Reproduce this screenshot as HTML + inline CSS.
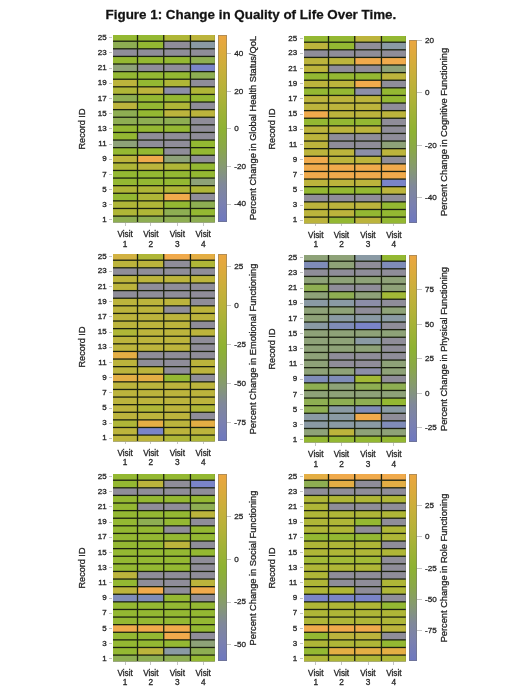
<!DOCTYPE html><html><head><meta charset="utf-8"><title>Figure 1</title><style>
*{margin:0;padding:0;box-sizing:border-box}
html,body{width:520px;height:693px;background:#fff;overflow:hidden}
body{position:relative;font-family:"Liberation Sans",sans-serif;color:#262626;-webkit-text-stroke:0.3px #262626}
.t{position:absolute;white-space:nowrap;line-height:1}
.hm{position:absolute;overflow:visible}
.cb{position:absolute;border:0.6px solid rgba(110,110,110,0.45);background-origin:border-box}
.tk{position:absolute;background:#c4c4c4}
.rt{position:absolute;white-space:nowrap;line-height:1;transform:translate(-50%,-50%) rotate(-90deg);}

</style></head><body><div id="wrap" style="position:absolute;left:0;top:0;width:520px;height:693px;filter:blur(0.4px)">
<div class="t" id="title" style="left:105.6px;top:7.8px;font-size:13.4px;font-weight:bold;color:#111">Figure 1: Change in Quality of Life Over Time.</div>
<svg class="hm" style="left:113.20px;top:35.10px" width="101.90" height="187.40" viewBox="0 0 101.90 187.40"><rect x="0" y="0" width="101.90" height="187.40" fill="#1c2210"/><rect x="0.00" y="0.00" width="23.85" height="5.55" fill="#94b832"/><rect x="25.15" y="0.00" width="24.95" height="5.55" fill="#94b832"/><rect x="51.40" y="0.00" width="25.40" height="5.55" fill="#afb637"/><rect x="78.10" y="0.00" width="23.80" height="5.55" fill="#bcb43c"/><rect x="0.00" y="6.85" width="23.85" height="6.30" fill="#8eae52"/><rect x="25.15" y="6.85" width="24.95" height="6.30" fill="#94b832"/><rect x="51.40" y="6.85" width="25.40" height="6.30" fill="#8f8d99"/><rect x="78.10" y="6.85" width="23.80" height="6.30" fill="#8a9aa4"/><rect x="0.00" y="14.45" width="23.85" height="6.30" fill="#8f8d99"/><rect x="25.15" y="14.45" width="24.95" height="6.30" fill="#8f8d99"/><rect x="51.40" y="14.45" width="25.40" height="6.30" fill="#8f8d99"/><rect x="78.10" y="14.45" width="23.80" height="6.30" fill="#8f8d99"/><rect x="0.00" y="22.06" width="23.85" height="6.30" fill="#94b832"/><rect x="25.15" y="22.06" width="24.95" height="6.30" fill="#94b832"/><rect x="51.40" y="22.06" width="25.40" height="6.30" fill="#94b832"/><rect x="78.10" y="22.06" width="23.80" height="6.30" fill="#8eae52"/><rect x="0.00" y="29.66" width="23.85" height="6.30" fill="#8ea278"/><rect x="25.15" y="29.66" width="24.95" height="6.30" fill="#8f8d99"/><rect x="51.40" y="29.66" width="25.40" height="6.30" fill="#8f8d99"/><rect x="78.10" y="29.66" width="23.80" height="6.30" fill="#7a84c8"/><rect x="0.00" y="37.27" width="23.85" height="6.30" fill="#94b832"/><rect x="25.15" y="37.27" width="24.95" height="6.30" fill="#94b832"/><rect x="51.40" y="37.27" width="25.40" height="6.30" fill="#94b832"/><rect x="78.10" y="37.27" width="23.80" height="6.30" fill="#8eae52"/><rect x="0.00" y="44.87" width="23.85" height="6.30" fill="#bcb43c"/><rect x="25.15" y="44.87" width="24.95" height="6.30" fill="#94b832"/><rect x="51.40" y="44.87" width="25.40" height="6.30" fill="#afb637"/><rect x="78.10" y="44.87" width="23.80" height="6.30" fill="#8f8d99"/><rect x="0.00" y="52.47" width="23.85" height="6.30" fill="#afb637"/><rect x="25.15" y="52.47" width="24.95" height="6.30" fill="#bcb43c"/><rect x="51.40" y="52.47" width="25.40" height="6.30" fill="#8c8ea8"/><rect x="78.10" y="52.47" width="23.80" height="6.30" fill="#afb637"/><rect x="0.00" y="60.08" width="23.85" height="6.30" fill="#8eae52"/><rect x="25.15" y="60.08" width="24.95" height="6.30" fill="#94b832"/><rect x="51.40" y="60.08" width="25.40" height="6.30" fill="#94b832"/><rect x="78.10" y="60.08" width="23.80" height="6.30" fill="#94b832"/><rect x="0.00" y="67.68" width="23.85" height="6.30" fill="#bcb43c"/><rect x="25.15" y="67.68" width="24.95" height="6.30" fill="#94b832"/><rect x="51.40" y="67.68" width="25.40" height="6.30" fill="#afb637"/><rect x="78.10" y="67.68" width="23.80" height="6.30" fill="#8f8d99"/><rect x="0.00" y="75.29" width="23.85" height="6.30" fill="#8eae52"/><rect x="25.15" y="75.29" width="24.95" height="6.30" fill="#94b832"/><rect x="51.40" y="75.29" width="25.40" height="6.30" fill="#bcb43c"/><rect x="78.10" y="75.29" width="23.80" height="6.30" fill="#bcb43c"/><rect x="0.00" y="82.89" width="23.85" height="6.30" fill="#8eae52"/><rect x="25.15" y="82.89" width="24.95" height="6.30" fill="#8eae52"/><rect x="51.40" y="82.89" width="25.40" height="6.30" fill="#8eae52"/><rect x="78.10" y="82.89" width="23.80" height="6.30" fill="#8f8d99"/><rect x="0.00" y="90.49" width="23.85" height="6.30" fill="#94b832"/><rect x="25.15" y="90.49" width="24.95" height="6.30" fill="#94b832"/><rect x="51.40" y="90.49" width="25.40" height="6.30" fill="#94b832"/><rect x="78.10" y="90.49" width="23.80" height="6.30" fill="#8f8d99"/><rect x="0.00" y="98.10" width="23.85" height="6.30" fill="#94b832"/><rect x="25.15" y="98.10" width="24.95" height="6.30" fill="#8f8d99"/><rect x="51.40" y="98.10" width="25.40" height="6.30" fill="#8f8d99"/><rect x="78.10" y="98.10" width="23.80" height="6.30" fill="#8f8d99"/><rect x="0.00" y="105.70" width="23.85" height="6.30" fill="#8ea278"/><rect x="25.15" y="105.70" width="24.95" height="6.30" fill="#8f8d99"/><rect x="51.40" y="105.70" width="25.40" height="6.30" fill="#8f8d99"/><rect x="78.10" y="105.70" width="23.80" height="6.30" fill="#94b832"/><rect x="0.00" y="113.31" width="23.85" height="6.30" fill="#94b832"/><rect x="25.15" y="113.31" width="24.95" height="6.30" fill="#94b832"/><rect x="51.40" y="113.31" width="25.40" height="6.30" fill="#8f8d99"/><rect x="78.10" y="113.31" width="23.80" height="6.30" fill="#94b832"/><rect x="0.00" y="120.91" width="23.85" height="6.30" fill="#bcb43c"/><rect x="25.15" y="120.91" width="24.95" height="6.30" fill="#f0aa4c"/><rect x="51.40" y="120.91" width="25.40" height="6.30" fill="#8ea278"/><rect x="78.10" y="120.91" width="23.80" height="6.30" fill="#8f8d99"/><rect x="0.00" y="128.51" width="23.85" height="6.30" fill="#afb637"/><rect x="25.15" y="128.51" width="24.95" height="6.30" fill="#bcb43c"/><rect x="51.40" y="128.51" width="25.40" height="6.30" fill="#afb637"/><rect x="78.10" y="128.51" width="23.80" height="6.30" fill="#94b832"/><rect x="0.00" y="136.12" width="23.85" height="6.30" fill="#94b832"/><rect x="25.15" y="136.12" width="24.95" height="6.30" fill="#94b832"/><rect x="51.40" y="136.12" width="25.40" height="6.30" fill="#94b832"/><rect x="78.10" y="136.12" width="23.80" height="6.30" fill="#94b832"/><rect x="0.00" y="143.72" width="23.85" height="6.30" fill="#94b832"/><rect x="25.15" y="143.72" width="24.95" height="6.30" fill="#94b832"/><rect x="51.40" y="143.72" width="25.40" height="6.30" fill="#94b832"/><rect x="78.10" y="143.72" width="23.80" height="6.30" fill="#8ea278"/><rect x="0.00" y="151.33" width="23.85" height="6.30" fill="#afb637"/><rect x="25.15" y="151.33" width="24.95" height="6.30" fill="#afb637"/><rect x="51.40" y="151.33" width="25.40" height="6.30" fill="#afb637"/><rect x="78.10" y="151.33" width="23.80" height="6.30" fill="#afb637"/><rect x="0.00" y="158.93" width="23.85" height="6.30" fill="#94b832"/><rect x="25.15" y="158.93" width="24.95" height="6.30" fill="#afb637"/><rect x="51.40" y="158.93" width="25.40" height="6.30" fill="#f0aa4c"/><rect x="78.10" y="158.93" width="23.80" height="6.30" fill="#8f8d99"/><rect x="0.00" y="166.53" width="23.85" height="6.30" fill="#afb637"/><rect x="25.15" y="166.53" width="24.95" height="6.30" fill="#afb637"/><rect x="51.40" y="166.53" width="25.40" height="6.30" fill="#94b832"/><rect x="78.10" y="166.53" width="23.80" height="6.30" fill="#8eae52"/><rect x="0.00" y="174.14" width="23.85" height="6.30" fill="#afb637"/><rect x="25.15" y="174.14" width="24.95" height="6.30" fill="#afb637"/><rect x="51.40" y="174.14" width="25.40" height="6.30" fill="#8eae52"/><rect x="78.10" y="174.14" width="23.80" height="6.30" fill="#94b832"/><rect x="0.00" y="181.74" width="23.85" height="5.66" fill="#8eae52"/><rect x="25.15" y="181.74" width="24.95" height="5.66" fill="#8eae52"/><rect x="51.40" y="181.74" width="25.40" height="5.66" fill="#8eae52"/><rect x="78.10" y="181.74" width="23.80" height="5.66" fill="#8eae52"/></svg>
<div class="tk" style="left:109.30px;top:219.27px;width:2.6px;height:0.8px"></div>
<div class="t" style="right:413.40px;top:215.87px;font-size:8px">1</div>
<div class="tk" style="left:109.30px;top:204.39px;width:2.6px;height:0.8px"></div>
<div class="t" style="right:413.40px;top:200.99px;font-size:8px">3</div>
<div class="tk" style="left:109.30px;top:189.18px;width:2.6px;height:0.8px"></div>
<div class="t" style="right:413.40px;top:185.78px;font-size:8px">5</div>
<div class="tk" style="left:109.30px;top:173.97px;width:2.6px;height:0.8px"></div>
<div class="t" style="right:413.40px;top:170.57px;font-size:8px">7</div>
<div class="tk" style="left:109.30px;top:158.76px;width:2.6px;height:0.8px"></div>
<div class="t" style="right:413.40px;top:155.36px;font-size:8px">9</div>
<div class="tk" style="left:109.30px;top:143.55px;width:2.6px;height:0.8px"></div>
<div class="t" style="right:413.40px;top:140.15px;font-size:8px">11</div>
<div class="tk" style="left:109.30px;top:128.35px;width:2.6px;height:0.8px"></div>
<div class="t" style="right:413.40px;top:124.95px;font-size:8px">13</div>
<div class="tk" style="left:109.30px;top:113.14px;width:2.6px;height:0.8px"></div>
<div class="t" style="right:413.40px;top:109.74px;font-size:8px">15</div>
<div class="tk" style="left:109.30px;top:97.93px;width:2.6px;height:0.8px"></div>
<div class="t" style="right:413.40px;top:94.53px;font-size:8px">17</div>
<div class="tk" style="left:109.30px;top:82.72px;width:2.6px;height:0.8px"></div>
<div class="t" style="right:413.40px;top:79.32px;font-size:8px">19</div>
<div class="tk" style="left:109.30px;top:67.51px;width:2.6px;height:0.8px"></div>
<div class="t" style="right:413.40px;top:64.11px;font-size:8px">21</div>
<div class="tk" style="left:109.30px;top:52.31px;width:2.6px;height:0.8px"></div>
<div class="t" style="right:413.40px;top:48.91px;font-size:8px">23</div>
<div class="tk" style="left:109.30px;top:37.48px;width:2.6px;height:0.8px"></div>
<div class="t" style="right:413.40px;top:34.08px;font-size:8px">25</div>
<div class="rt" style="left:82.70px;top:128.90px;font-size:9.1px">Record ID</div>
<div class="tk" style="left:124.72px;top:223.30px;width:0.8px;height:2.4px"></div>
<div class="t" style="left:110.12px;top:231.10px;width:30px;text-align:center;font-size:8.2px">Visit</div>
<div class="t" style="left:110.12px;top:239.50px;width:30px;text-align:center;font-size:8.3px">1</div>
<div class="tk" style="left:150.42px;top:223.30px;width:0.8px;height:2.4px"></div>
<div class="t" style="left:135.82px;top:231.10px;width:30px;text-align:center;font-size:8.2px">Visit</div>
<div class="t" style="left:135.82px;top:239.50px;width:30px;text-align:center;font-size:8.3px">2</div>
<div class="tk" style="left:176.90px;top:223.30px;width:0.8px;height:2.4px"></div>
<div class="t" style="left:162.30px;top:231.10px;width:30px;text-align:center;font-size:8.2px">Visit</div>
<div class="t" style="left:162.30px;top:239.50px;width:30px;text-align:center;font-size:8.3px">3</div>
<div class="tk" style="left:202.80px;top:223.30px;width:0.8px;height:2.4px"></div>
<div class="t" style="left:188.20px;top:231.10px;width:30px;text-align:center;font-size:8.2px">Visit</div>
<div class="t" style="left:188.20px;top:239.50px;width:30px;text-align:center;font-size:8.3px">4</div>
<div class="cb" style="left:218.10px;top:35.10px;width:8.5px;height:187.40px;background-image:linear-gradient(to bottom, #eca640 0%, #daab3b 10%, #c6b03a 20%, #b4b238 30%, #a0b236 40%, #8eb232 50%, #8aa848 60%, #869a70 70%, #80889a 80%, #7a80b0 90%, #6e78c0 100%)"></div>
<div class="tk" style="left:226.60px;top:52.90px;width:4.6px;height:0.8px"></div>
<div class="t" style="left:234.30px;top:49.80px;font-size:8.1px">40</div>
<div class="tk" style="left:226.60px;top:90.80px;width:4.6px;height:0.8px"></div>
<div class="t" style="left:234.30px;top:87.70px;font-size:8.1px">20</div>
<div class="tk" style="left:226.60px;top:128.30px;width:4.6px;height:0.8px"></div>
<div class="t" style="left:234.30px;top:125.20px;font-size:8.1px">0</div>
<div class="tk" style="left:226.60px;top:166.00px;width:4.6px;height:0.8px"></div>
<div class="t" style="left:234.30px;top:162.90px;font-size:8.1px">-20</div>
<div class="tk" style="left:226.60px;top:203.50px;width:4.6px;height:0.8px"></div>
<div class="t" style="left:234.30px;top:200.40px;font-size:8.1px">-40</div>
<div class="rt" style="left:254.40px;top:128.40px;font-size:9.25px">Percent Change in Global Health Status/QoL</div>
<svg class="hm" style="left:303.85px;top:35.60px" width="101.90" height="187.40" viewBox="0 0 101.90 187.40"><rect x="0" y="0" width="101.90" height="187.40" fill="#1c2210"/><rect x="0.00" y="0.00" width="23.85" height="5.55" fill="#94b832"/><rect x="25.15" y="0.00" width="24.95" height="5.55" fill="#94b832"/><rect x="51.40" y="0.00" width="25.40" height="5.55" fill="#bcb43c"/><rect x="78.10" y="0.00" width="23.80" height="5.55" fill="#94b832"/><rect x="0.00" y="6.85" width="23.85" height="6.30" fill="#bcb43c"/><rect x="25.15" y="6.85" width="24.95" height="6.30" fill="#94b832"/><rect x="51.40" y="6.85" width="25.40" height="6.30" fill="#8f8d99"/><rect x="78.10" y="6.85" width="23.80" height="6.30" fill="#8a9aa4"/><rect x="0.00" y="14.45" width="23.85" height="6.30" fill="#8f8d99"/><rect x="25.15" y="14.45" width="24.95" height="6.30" fill="#8f8d99"/><rect x="51.40" y="14.45" width="25.40" height="6.30" fill="#8f8d99"/><rect x="78.10" y="14.45" width="23.80" height="6.30" fill="#8f8d99"/><rect x="0.00" y="22.06" width="23.85" height="6.30" fill="#bcb43c"/><rect x="25.15" y="22.06" width="24.95" height="6.30" fill="#bcb43c"/><rect x="51.40" y="22.06" width="25.40" height="6.30" fill="#f0aa4c"/><rect x="78.10" y="22.06" width="23.80" height="6.30" fill="#f0aa4c"/><rect x="0.00" y="29.66" width="23.85" height="6.30" fill="#bcb43c"/><rect x="25.15" y="29.66" width="24.95" height="6.30" fill="#8f8d99"/><rect x="51.40" y="29.66" width="25.40" height="6.30" fill="#8f8d99"/><rect x="78.10" y="29.66" width="23.80" height="6.30" fill="#8ea278"/><rect x="0.00" y="37.27" width="23.85" height="6.30" fill="#94b832"/><rect x="25.15" y="37.27" width="24.95" height="6.30" fill="#94b832"/><rect x="51.40" y="37.27" width="25.40" height="6.30" fill="#94b832"/><rect x="78.10" y="37.27" width="23.80" height="6.30" fill="#bcb43c"/><rect x="0.00" y="44.87" width="23.85" height="6.30" fill="#bcb43c"/><rect x="25.15" y="44.87" width="24.95" height="6.30" fill="#bcb43c"/><rect x="51.40" y="44.87" width="25.40" height="6.30" fill="#f0aa4c"/><rect x="78.10" y="44.87" width="23.80" height="6.30" fill="#8f8d99"/><rect x="0.00" y="52.47" width="23.85" height="6.30" fill="#94b832"/><rect x="25.15" y="52.47" width="24.95" height="6.30" fill="#94b832"/><rect x="51.40" y="52.47" width="25.40" height="6.30" fill="#8c8ea8"/><rect x="78.10" y="52.47" width="23.80" height="6.30" fill="#94b832"/><rect x="0.00" y="60.08" width="23.85" height="6.30" fill="#bcb43c"/><rect x="25.15" y="60.08" width="24.95" height="6.30" fill="#bcb43c"/><rect x="51.40" y="60.08" width="25.40" height="6.30" fill="#bcb43c"/><rect x="78.10" y="60.08" width="23.80" height="6.30" fill="#94b832"/><rect x="0.00" y="67.68" width="23.85" height="6.30" fill="#bcb43c"/><rect x="25.15" y="67.68" width="24.95" height="6.30" fill="#bcb43c"/><rect x="51.40" y="67.68" width="25.40" height="6.30" fill="#bcb43c"/><rect x="78.10" y="67.68" width="23.80" height="6.30" fill="#8f8d99"/><rect x="0.00" y="75.29" width="23.85" height="6.30" fill="#f0aa4c"/><rect x="25.15" y="75.29" width="24.95" height="6.30" fill="#bcb43c"/><rect x="51.40" y="75.29" width="25.40" height="6.30" fill="#bcb43c"/><rect x="78.10" y="75.29" width="23.80" height="6.30" fill="#bcb43c"/><rect x="0.00" y="82.89" width="23.85" height="6.30" fill="#94b832"/><rect x="25.15" y="82.89" width="24.95" height="6.30" fill="#94b832"/><rect x="51.40" y="82.89" width="25.40" height="6.30" fill="#94b832"/><rect x="78.10" y="82.89" width="23.80" height="6.30" fill="#8f8d99"/><rect x="0.00" y="90.49" width="23.85" height="6.30" fill="#bcb43c"/><rect x="25.15" y="90.49" width="24.95" height="6.30" fill="#bcb43c"/><rect x="51.40" y="90.49" width="25.40" height="6.30" fill="#bcb43c"/><rect x="78.10" y="90.49" width="23.80" height="6.30" fill="#8f8d99"/><rect x="0.00" y="98.10" width="23.85" height="6.30" fill="#bcb43c"/><rect x="25.15" y="98.10" width="24.95" height="6.30" fill="#8f8d99"/><rect x="51.40" y="98.10" width="25.40" height="6.30" fill="#8f8d99"/><rect x="78.10" y="98.10" width="23.80" height="6.30" fill="#8f8d99"/><rect x="0.00" y="105.70" width="23.85" height="6.30" fill="#bcb43c"/><rect x="25.15" y="105.70" width="24.95" height="6.30" fill="#8f8d99"/><rect x="51.40" y="105.70" width="25.40" height="6.30" fill="#8f8d99"/><rect x="78.10" y="105.70" width="23.80" height="6.30" fill="#8ea278"/><rect x="0.00" y="113.31" width="23.85" height="6.30" fill="#bcb43c"/><rect x="25.15" y="113.31" width="24.95" height="6.30" fill="#bcb43c"/><rect x="51.40" y="113.31" width="25.40" height="6.30" fill="#8c8ea8"/><rect x="78.10" y="113.31" width="23.80" height="6.30" fill="#bcb43c"/><rect x="0.00" y="120.91" width="23.85" height="6.30" fill="#f0aa4c"/><rect x="25.15" y="120.91" width="24.95" height="6.30" fill="#bcb43c"/><rect x="51.40" y="120.91" width="25.40" height="6.30" fill="#bcb43c"/><rect x="78.10" y="120.91" width="23.80" height="6.30" fill="#8f8d99"/><rect x="0.00" y="128.51" width="23.85" height="6.30" fill="#f0aa4c"/><rect x="25.15" y="128.51" width="24.95" height="6.30" fill="#f0aa4c"/><rect x="51.40" y="128.51" width="25.40" height="6.30" fill="#f0aa4c"/><rect x="78.10" y="128.51" width="23.80" height="6.30" fill="#f0aa4c"/><rect x="0.00" y="136.12" width="23.85" height="6.30" fill="#f0aa4c"/><rect x="25.15" y="136.12" width="24.95" height="6.30" fill="#f0aa4c"/><rect x="51.40" y="136.12" width="25.40" height="6.30" fill="#f0aa4c"/><rect x="78.10" y="136.12" width="23.80" height="6.30" fill="#f0aa4c"/><rect x="0.00" y="143.72" width="23.85" height="6.30" fill="#bcb43c"/><rect x="25.15" y="143.72" width="24.95" height="6.30" fill="#bcb43c"/><rect x="51.40" y="143.72" width="25.40" height="6.30" fill="#bcb43c"/><rect x="78.10" y="143.72" width="23.80" height="6.30" fill="#7a84c8"/><rect x="0.00" y="151.33" width="23.85" height="6.30" fill="#94b832"/><rect x="25.15" y="151.33" width="24.95" height="6.30" fill="#94b832"/><rect x="51.40" y="151.33" width="25.40" height="6.30" fill="#94b832"/><rect x="78.10" y="151.33" width="23.80" height="6.30" fill="#bcb43c"/><rect x="0.00" y="158.93" width="23.85" height="6.30" fill="#8f8d99"/><rect x="25.15" y="158.93" width="24.95" height="6.30" fill="#8f8d99"/><rect x="51.40" y="158.93" width="25.40" height="6.30" fill="#8f8d99"/><rect x="78.10" y="158.93" width="23.80" height="6.30" fill="#8f8d99"/><rect x="0.00" y="166.53" width="23.85" height="6.30" fill="#bcb43c"/><rect x="25.15" y="166.53" width="24.95" height="6.30" fill="#bcb43c"/><rect x="51.40" y="166.53" width="25.40" height="6.30" fill="#bcb43c"/><rect x="78.10" y="166.53" width="23.80" height="6.30" fill="#94b832"/><rect x="0.00" y="174.14" width="23.85" height="6.30" fill="#bcb43c"/><rect x="25.15" y="174.14" width="24.95" height="6.30" fill="#bcb43c"/><rect x="51.40" y="174.14" width="25.40" height="6.30" fill="#94b832"/><rect x="78.10" y="174.14" width="23.80" height="6.30" fill="#94b832"/><rect x="0.00" y="181.74" width="23.85" height="5.66" fill="#bcb43c"/><rect x="25.15" y="181.74" width="24.95" height="5.66" fill="#94b832"/><rect x="51.40" y="181.74" width="25.40" height="5.66" fill="#bcb43c"/><rect x="78.10" y="181.74" width="23.80" height="5.66" fill="#94b832"/></svg>
<div class="tk" style="left:299.95px;top:219.77px;width:2.6px;height:0.8px"></div>
<div class="t" style="right:222.75px;top:216.37px;font-size:8px">1</div>
<div class="tk" style="left:299.95px;top:204.89px;width:2.6px;height:0.8px"></div>
<div class="t" style="right:222.75px;top:201.49px;font-size:8px">3</div>
<div class="tk" style="left:299.95px;top:189.68px;width:2.6px;height:0.8px"></div>
<div class="t" style="right:222.75px;top:186.28px;font-size:8px">5</div>
<div class="tk" style="left:299.95px;top:174.47px;width:2.6px;height:0.8px"></div>
<div class="t" style="right:222.75px;top:171.07px;font-size:8px">7</div>
<div class="tk" style="left:299.95px;top:159.26px;width:2.6px;height:0.8px"></div>
<div class="t" style="right:222.75px;top:155.86px;font-size:8px">9</div>
<div class="tk" style="left:299.95px;top:144.05px;width:2.6px;height:0.8px"></div>
<div class="t" style="right:222.75px;top:140.65px;font-size:8px">11</div>
<div class="tk" style="left:299.95px;top:128.85px;width:2.6px;height:0.8px"></div>
<div class="t" style="right:222.75px;top:125.45px;font-size:8px">13</div>
<div class="tk" style="left:299.95px;top:113.64px;width:2.6px;height:0.8px"></div>
<div class="t" style="right:222.75px;top:110.24px;font-size:8px">15</div>
<div class="tk" style="left:299.95px;top:98.43px;width:2.6px;height:0.8px"></div>
<div class="t" style="right:222.75px;top:95.03px;font-size:8px">17</div>
<div class="tk" style="left:299.95px;top:83.22px;width:2.6px;height:0.8px"></div>
<div class="t" style="right:222.75px;top:79.82px;font-size:8px">19</div>
<div class="tk" style="left:299.95px;top:68.01px;width:2.6px;height:0.8px"></div>
<div class="t" style="right:222.75px;top:64.61px;font-size:8px">21</div>
<div class="tk" style="left:299.95px;top:52.81px;width:2.6px;height:0.8px"></div>
<div class="t" style="right:222.75px;top:49.41px;font-size:8px">23</div>
<div class="tk" style="left:299.95px;top:37.98px;width:2.6px;height:0.8px"></div>
<div class="t" style="right:222.75px;top:34.58px;font-size:8px">25</div>
<div class="rt" style="left:273.35px;top:129.40px;font-size:9.1px">Record ID</div>
<div class="tk" style="left:315.38px;top:223.80px;width:0.8px;height:2.4px"></div>
<div class="t" style="left:300.78px;top:231.60px;width:30px;text-align:center;font-size:8.2px">Visit</div>
<div class="t" style="left:300.78px;top:240.00px;width:30px;text-align:center;font-size:8.3px">1</div>
<div class="tk" style="left:341.08px;top:223.80px;width:0.8px;height:2.4px"></div>
<div class="t" style="left:326.48px;top:231.60px;width:30px;text-align:center;font-size:8.2px">Visit</div>
<div class="t" style="left:326.48px;top:240.00px;width:30px;text-align:center;font-size:8.3px">2</div>
<div class="tk" style="left:367.55px;top:223.80px;width:0.8px;height:2.4px"></div>
<div class="t" style="left:352.95px;top:231.60px;width:30px;text-align:center;font-size:8.2px">Visit</div>
<div class="t" style="left:352.95px;top:240.00px;width:30px;text-align:center;font-size:8.3px">3</div>
<div class="tk" style="left:393.45px;top:223.80px;width:0.8px;height:2.4px"></div>
<div class="t" style="left:378.85px;top:231.60px;width:30px;text-align:center;font-size:8.2px">Visit</div>
<div class="t" style="left:378.85px;top:240.00px;width:30px;text-align:center;font-size:8.3px">4</div>
<div class="cb" style="left:408.75px;top:39.80px;width:8.5px;height:182.80px;background-image:linear-gradient(to bottom, #eca640 0%, #daab3b 10%, #c6b03a 20%, #b4b238 30%, #a0b236 40%, #8eb232 50%, #8aa848 60%, #869a70 70%, #80889a 80%, #7a80b0 90%, #6e78c0 100%)"></div>
<div class="tk" style="left:417.25px;top:39.60px;width:4.6px;height:0.8px"></div>
<div class="t" style="left:424.95px;top:36.50px;font-size:8.1px">20</div>
<div class="tk" style="left:417.25px;top:92.30px;width:4.6px;height:0.8px"></div>
<div class="t" style="left:424.95px;top:89.20px;font-size:8.1px">0</div>
<div class="tk" style="left:417.25px;top:144.60px;width:4.6px;height:0.8px"></div>
<div class="t" style="left:424.95px;top:141.50px;font-size:8.1px">-20</div>
<div class="tk" style="left:417.25px;top:197.00px;width:4.6px;height:0.8px"></div>
<div class="t" style="left:424.95px;top:193.90px;font-size:8.1px">-40</div>
<div class="rt" style="left:445.05px;top:131.90px;font-size:9.25px">Percent Change in Cognitive Functioning</div>
<svg class="hm" style="left:113.20px;top:253.60px" width="101.90" height="187.40" viewBox="0 0 101.90 187.40"><rect x="0" y="0" width="101.90" height="187.40" fill="#1c2210"/><rect x="0.00" y="0.00" width="23.85" height="5.55" fill="#d2b242"/><rect x="25.15" y="0.00" width="24.95" height="5.55" fill="#afb637"/><rect x="51.40" y="0.00" width="25.40" height="5.55" fill="#f0aa4c"/><rect x="78.10" y="0.00" width="23.80" height="5.55" fill="#e4ae44"/><rect x="0.00" y="6.85" width="23.85" height="6.30" fill="#bcb43c"/><rect x="25.15" y="6.85" width="24.95" height="6.30" fill="#bcb43c"/><rect x="51.40" y="6.85" width="25.40" height="6.30" fill="#8f8d99"/><rect x="78.10" y="6.85" width="23.80" height="6.30" fill="#afb637"/><rect x="0.00" y="14.45" width="23.85" height="6.30" fill="#8f8d99"/><rect x="25.15" y="14.45" width="24.95" height="6.30" fill="#8f8d99"/><rect x="51.40" y="14.45" width="25.40" height="6.30" fill="#8f8d99"/><rect x="78.10" y="14.45" width="23.80" height="6.30" fill="#8f8d99"/><rect x="0.00" y="22.06" width="23.85" height="6.30" fill="#bcb43c"/><rect x="25.15" y="22.06" width="24.95" height="6.30" fill="#bcb43c"/><rect x="51.40" y="22.06" width="25.40" height="6.30" fill="#bcb43c"/><rect x="78.10" y="22.06" width="23.80" height="6.30" fill="#bcb43c"/><rect x="0.00" y="29.66" width="23.85" height="6.30" fill="#bcb43c"/><rect x="25.15" y="29.66" width="24.95" height="6.30" fill="#8f8d99"/><rect x="51.40" y="29.66" width="25.40" height="6.30" fill="#8f8d99"/><rect x="78.10" y="29.66" width="23.80" height="6.30" fill="#8f8d99"/><rect x="0.00" y="37.27" width="23.85" height="6.30" fill="#8f8d99"/><rect x="25.15" y="37.27" width="24.95" height="6.30" fill="#8f8d99"/><rect x="51.40" y="37.27" width="25.40" height="6.30" fill="#8f8d99"/><rect x="78.10" y="37.27" width="23.80" height="6.30" fill="#8f8d99"/><rect x="0.00" y="44.87" width="23.85" height="6.30" fill="#bcb43c"/><rect x="25.15" y="44.87" width="24.95" height="6.30" fill="#bcb43c"/><rect x="51.40" y="44.87" width="25.40" height="6.30" fill="#bcb43c"/><rect x="78.10" y="44.87" width="23.80" height="6.30" fill="#8f8d99"/><rect x="0.00" y="52.47" width="23.85" height="6.30" fill="#bcb43c"/><rect x="25.15" y="52.47" width="24.95" height="6.30" fill="#bcb43c"/><rect x="51.40" y="52.47" width="25.40" height="6.30" fill="#8f8d99"/><rect x="78.10" y="52.47" width="23.80" height="6.30" fill="#bcb43c"/><rect x="0.00" y="60.08" width="23.85" height="6.30" fill="#bcb43c"/><rect x="25.15" y="60.08" width="24.95" height="6.30" fill="#bcb43c"/><rect x="51.40" y="60.08" width="25.40" height="6.30" fill="#bcb43c"/><rect x="78.10" y="60.08" width="23.80" height="6.30" fill="#bcb43c"/><rect x="0.00" y="67.68" width="23.85" height="6.30" fill="#bcb43c"/><rect x="25.15" y="67.68" width="24.95" height="6.30" fill="#bcb43c"/><rect x="51.40" y="67.68" width="25.40" height="6.30" fill="#bcb43c"/><rect x="78.10" y="67.68" width="23.80" height="6.30" fill="#8f8d99"/><rect x="0.00" y="75.29" width="23.85" height="6.30" fill="#afb637"/><rect x="25.15" y="75.29" width="24.95" height="6.30" fill="#bcb43c"/><rect x="51.40" y="75.29" width="25.40" height="6.30" fill="#bcb43c"/><rect x="78.10" y="75.29" width="23.80" height="6.30" fill="#bcb43c"/><rect x="0.00" y="82.89" width="23.85" height="6.30" fill="#bcb43c"/><rect x="25.15" y="82.89" width="24.95" height="6.30" fill="#bcb43c"/><rect x="51.40" y="82.89" width="25.40" height="6.30" fill="#bcb43c"/><rect x="78.10" y="82.89" width="23.80" height="6.30" fill="#8f8d99"/><rect x="0.00" y="90.49" width="23.85" height="6.30" fill="#bcb43c"/><rect x="25.15" y="90.49" width="24.95" height="6.30" fill="#bcb43c"/><rect x="51.40" y="90.49" width="25.40" height="6.30" fill="#bcb43c"/><rect x="78.10" y="90.49" width="23.80" height="6.30" fill="#8f8d99"/><rect x="0.00" y="98.10" width="23.85" height="6.30" fill="#e4ae44"/><rect x="25.15" y="98.10" width="24.95" height="6.30" fill="#8f8d99"/><rect x="51.40" y="98.10" width="25.40" height="6.30" fill="#8f8d99"/><rect x="78.10" y="98.10" width="23.80" height="6.30" fill="#8f8d99"/><rect x="0.00" y="105.70" width="23.85" height="6.30" fill="#bcb43c"/><rect x="25.15" y="105.70" width="24.95" height="6.30" fill="#8f8d99"/><rect x="51.40" y="105.70" width="25.40" height="6.30" fill="#8f8d99"/><rect x="78.10" y="105.70" width="23.80" height="6.30" fill="#bcb43c"/><rect x="0.00" y="113.31" width="23.85" height="6.30" fill="#bcb43c"/><rect x="25.15" y="113.31" width="24.95" height="6.30" fill="#bcb43c"/><rect x="51.40" y="113.31" width="25.40" height="6.30" fill="#8f8d99"/><rect x="78.10" y="113.31" width="23.80" height="6.30" fill="#bcb43c"/><rect x="0.00" y="120.91" width="23.85" height="6.30" fill="#e4ae44"/><rect x="25.15" y="120.91" width="24.95" height="6.30" fill="#e4ae44"/><rect x="51.40" y="120.91" width="25.40" height="6.30" fill="#94b832"/><rect x="78.10" y="120.91" width="23.80" height="6.30" fill="#8f8d99"/><rect x="0.00" y="128.51" width="23.85" height="6.30" fill="#bcb43c"/><rect x="25.15" y="128.51" width="24.95" height="6.30" fill="#bcb43c"/><rect x="51.40" y="128.51" width="25.40" height="6.30" fill="#bcb43c"/><rect x="78.10" y="128.51" width="23.80" height="6.30" fill="#bcb43c"/><rect x="0.00" y="136.12" width="23.85" height="6.30" fill="#bcb43c"/><rect x="25.15" y="136.12" width="24.95" height="6.30" fill="#bcb43c"/><rect x="51.40" y="136.12" width="25.40" height="6.30" fill="#bcb43c"/><rect x="78.10" y="136.12" width="23.80" height="6.30" fill="#bcb43c"/><rect x="0.00" y="143.72" width="23.85" height="6.30" fill="#bcb43c"/><rect x="25.15" y="143.72" width="24.95" height="6.30" fill="#bcb43c"/><rect x="51.40" y="143.72" width="25.40" height="6.30" fill="#bcb43c"/><rect x="78.10" y="143.72" width="23.80" height="6.30" fill="#bcb43c"/><rect x="0.00" y="151.33" width="23.85" height="6.30" fill="#bcb43c"/><rect x="25.15" y="151.33" width="24.95" height="6.30" fill="#afb637"/><rect x="51.40" y="151.33" width="25.40" height="6.30" fill="#bcb43c"/><rect x="78.10" y="151.33" width="23.80" height="6.30" fill="#afb637"/><rect x="0.00" y="158.93" width="23.85" height="6.30" fill="#bcb43c"/><rect x="25.15" y="158.93" width="24.95" height="6.30" fill="#bcb43c"/><rect x="51.40" y="158.93" width="25.40" height="6.30" fill="#bcb43c"/><rect x="78.10" y="158.93" width="23.80" height="6.30" fill="#8f8d99"/><rect x="0.00" y="166.53" width="23.85" height="6.30" fill="#afb637"/><rect x="25.15" y="166.53" width="24.95" height="6.30" fill="#e4ae44"/><rect x="51.40" y="166.53" width="25.40" height="6.30" fill="#bcb43c"/><rect x="78.10" y="166.53" width="23.80" height="6.30" fill="#e4ae44"/><rect x="0.00" y="174.14" width="23.85" height="6.30" fill="#bcb43c"/><rect x="25.15" y="174.14" width="24.95" height="6.30" fill="#7a84c8"/><rect x="51.40" y="174.14" width="25.40" height="6.30" fill="#bcb43c"/><rect x="78.10" y="174.14" width="23.80" height="6.30" fill="#bcb43c"/><rect x="0.00" y="181.74" width="23.85" height="5.66" fill="#bcb43c"/><rect x="25.15" y="181.74" width="24.95" height="5.66" fill="#bcb43c"/><rect x="51.40" y="181.74" width="25.40" height="5.66" fill="#afb637"/><rect x="78.10" y="181.74" width="23.80" height="5.66" fill="#afb637"/></svg>
<div class="tk" style="left:109.30px;top:437.77px;width:2.6px;height:0.8px"></div>
<div class="t" style="right:413.40px;top:434.37px;font-size:8px">1</div>
<div class="tk" style="left:109.30px;top:422.89px;width:2.6px;height:0.8px"></div>
<div class="t" style="right:413.40px;top:419.49px;font-size:8px">3</div>
<div class="tk" style="left:109.30px;top:407.68px;width:2.6px;height:0.8px"></div>
<div class="t" style="right:413.40px;top:404.28px;font-size:8px">5</div>
<div class="tk" style="left:109.30px;top:392.47px;width:2.6px;height:0.8px"></div>
<div class="t" style="right:413.40px;top:389.07px;font-size:8px">7</div>
<div class="tk" style="left:109.30px;top:377.26px;width:2.6px;height:0.8px"></div>
<div class="t" style="right:413.40px;top:373.86px;font-size:8px">9</div>
<div class="tk" style="left:109.30px;top:362.05px;width:2.6px;height:0.8px"></div>
<div class="t" style="right:413.40px;top:358.65px;font-size:8px">11</div>
<div class="tk" style="left:109.30px;top:346.85px;width:2.6px;height:0.8px"></div>
<div class="t" style="right:413.40px;top:343.45px;font-size:8px">13</div>
<div class="tk" style="left:109.30px;top:331.64px;width:2.6px;height:0.8px"></div>
<div class="t" style="right:413.40px;top:328.24px;font-size:8px">15</div>
<div class="tk" style="left:109.30px;top:316.43px;width:2.6px;height:0.8px"></div>
<div class="t" style="right:413.40px;top:313.03px;font-size:8px">17</div>
<div class="tk" style="left:109.30px;top:301.22px;width:2.6px;height:0.8px"></div>
<div class="t" style="right:413.40px;top:297.82px;font-size:8px">19</div>
<div class="tk" style="left:109.30px;top:286.01px;width:2.6px;height:0.8px"></div>
<div class="t" style="right:413.40px;top:282.61px;font-size:8px">21</div>
<div class="tk" style="left:109.30px;top:270.81px;width:2.6px;height:0.8px"></div>
<div class="t" style="right:413.40px;top:267.41px;font-size:8px">23</div>
<div class="tk" style="left:109.30px;top:255.97px;width:2.6px;height:0.8px"></div>
<div class="t" style="right:413.40px;top:252.57px;font-size:8px">25</div>
<div class="rt" style="left:82.70px;top:347.40px;font-size:9.1px">Record ID</div>
<div class="tk" style="left:124.72px;top:441.80px;width:0.8px;height:2.4px"></div>
<div class="t" style="left:110.12px;top:449.60px;width:30px;text-align:center;font-size:8.2px">Visit</div>
<div class="t" style="left:110.12px;top:458.00px;width:30px;text-align:center;font-size:8.3px">1</div>
<div class="tk" style="left:150.42px;top:441.80px;width:0.8px;height:2.4px"></div>
<div class="t" style="left:135.82px;top:449.60px;width:30px;text-align:center;font-size:8.2px">Visit</div>
<div class="t" style="left:135.82px;top:458.00px;width:30px;text-align:center;font-size:8.3px">2</div>
<div class="tk" style="left:176.90px;top:441.80px;width:0.8px;height:2.4px"></div>
<div class="t" style="left:162.30px;top:449.60px;width:30px;text-align:center;font-size:8.2px">Visit</div>
<div class="t" style="left:162.30px;top:458.00px;width:30px;text-align:center;font-size:8.3px">3</div>
<div class="tk" style="left:202.80px;top:441.80px;width:0.8px;height:2.4px"></div>
<div class="t" style="left:188.20px;top:449.60px;width:30px;text-align:center;font-size:8.2px">Visit</div>
<div class="t" style="left:188.20px;top:458.00px;width:30px;text-align:center;font-size:8.3px">4</div>
<div class="cb" style="left:218.10px;top:253.90px;width:8.5px;height:187.00px;background-image:linear-gradient(to bottom, #eca640 0%, #daab3b 10%, #c6b03a 20%, #b4b238 30%, #a0b236 40%, #8eb232 50%, #8aa848 60%, #869a70 70%, #80889a 80%, #7a80b0 90%, #6e78c0 100%)"></div>
<div class="tk" style="left:226.60px;top:266.10px;width:4.6px;height:0.8px"></div>
<div class="t" style="left:234.30px;top:263.00px;font-size:8.1px">25</div>
<div class="tk" style="left:226.60px;top:304.80px;width:4.6px;height:0.8px"></div>
<div class="t" style="left:234.30px;top:301.70px;font-size:8.1px">0</div>
<div class="tk" style="left:226.60px;top:343.90px;width:4.6px;height:0.8px"></div>
<div class="t" style="left:234.30px;top:340.80px;font-size:8.1px">-25</div>
<div class="tk" style="left:226.60px;top:383.00px;width:4.6px;height:0.8px"></div>
<div class="t" style="left:234.30px;top:379.90px;font-size:8.1px">-50</div>
<div class="tk" style="left:226.60px;top:421.70px;width:4.6px;height:0.8px"></div>
<div class="t" style="left:234.30px;top:418.60px;font-size:8.1px">-75</div>
<div class="rt" style="left:254.40px;top:348.50px;font-size:9.25px">Percent Change in Emotional Functioning</div>
<svg class="hm" style="left:303.85px;top:255.10px" width="101.90" height="187.40" viewBox="0 0 101.90 187.40"><rect x="0" y="0" width="101.90" height="187.40" fill="#1c2210"/><rect x="0.00" y="0.00" width="23.85" height="5.55" fill="#8ea278"/><rect x="25.15" y="0.00" width="24.95" height="5.55" fill="#8ea278"/><rect x="51.40" y="0.00" width="25.40" height="5.55" fill="#8a9aa4"/><rect x="78.10" y="0.00" width="23.80" height="5.55" fill="#94b832"/><rect x="0.00" y="6.85" width="23.85" height="6.30" fill="#7f8cb8"/><rect x="25.15" y="6.85" width="24.95" height="6.30" fill="#8ea278"/><rect x="51.40" y="6.85" width="25.40" height="6.30" fill="#8f8d99"/><rect x="78.10" y="6.85" width="23.80" height="6.30" fill="#7f8cb8"/><rect x="0.00" y="14.45" width="23.85" height="6.30" fill="#8f8d99"/><rect x="25.15" y="14.45" width="24.95" height="6.30" fill="#8f8d99"/><rect x="51.40" y="14.45" width="25.40" height="6.30" fill="#8f8d99"/><rect x="78.10" y="14.45" width="23.80" height="6.30" fill="#8f8d99"/><rect x="0.00" y="22.06" width="23.85" height="6.30" fill="#8ea278"/><rect x="25.15" y="22.06" width="24.95" height="6.30" fill="#8ea278"/><rect x="51.40" y="22.06" width="25.40" height="6.30" fill="#8ea278"/><rect x="78.10" y="22.06" width="23.80" height="6.30" fill="#8ea278"/><rect x="0.00" y="29.66" width="23.85" height="6.30" fill="#8eae52"/><rect x="25.15" y="29.66" width="24.95" height="6.30" fill="#8f8d99"/><rect x="51.40" y="29.66" width="25.40" height="6.30" fill="#8f8d99"/><rect x="78.10" y="29.66" width="23.80" height="6.30" fill="#8ea278"/><rect x="0.00" y="37.27" width="23.85" height="6.30" fill="#8ea278"/><rect x="25.15" y="37.27" width="24.95" height="6.30" fill="#8eae52"/><rect x="51.40" y="37.27" width="25.40" height="6.30" fill="#8ea278"/><rect x="78.10" y="37.27" width="23.80" height="6.30" fill="#a2b936"/><rect x="0.00" y="44.87" width="23.85" height="6.30" fill="#8a9aa4"/><rect x="25.15" y="44.87" width="24.95" height="6.30" fill="#8a9aa4"/><rect x="51.40" y="44.87" width="25.40" height="6.30" fill="#8c8ea8"/><rect x="78.10" y="44.87" width="23.80" height="6.30" fill="#8f8d99"/><rect x="0.00" y="52.47" width="23.85" height="6.30" fill="#8ea278"/><rect x="25.15" y="52.47" width="24.95" height="6.30" fill="#8ea278"/><rect x="51.40" y="52.47" width="25.40" height="6.30" fill="#8f8d99"/><rect x="78.10" y="52.47" width="23.80" height="6.30" fill="#8ea278"/><rect x="0.00" y="60.08" width="23.85" height="6.30" fill="#8ea278"/><rect x="25.15" y="60.08" width="24.95" height="6.30" fill="#8a9aa4"/><rect x="51.40" y="60.08" width="25.40" height="6.30" fill="#8a9aa4"/><rect x="78.10" y="60.08" width="23.80" height="6.30" fill="#8a9aa4"/><rect x="0.00" y="67.68" width="23.85" height="6.30" fill="#8a9aa4"/><rect x="25.15" y="67.68" width="24.95" height="6.30" fill="#7f8cb8"/><rect x="51.40" y="67.68" width="25.40" height="6.30" fill="#7a84c8"/><rect x="78.10" y="67.68" width="23.80" height="6.30" fill="#8f8d99"/><rect x="0.00" y="75.29" width="23.85" height="6.30" fill="#8ea278"/><rect x="25.15" y="75.29" width="24.95" height="6.30" fill="#8ea278"/><rect x="51.40" y="75.29" width="25.40" height="6.30" fill="#8ea278"/><rect x="78.10" y="75.29" width="23.80" height="6.30" fill="#8ea278"/><rect x="0.00" y="82.89" width="23.85" height="6.30" fill="#8ea278"/><rect x="25.15" y="82.89" width="24.95" height="6.30" fill="#8ea278"/><rect x="51.40" y="82.89" width="25.40" height="6.30" fill="#8a9aa4"/><rect x="78.10" y="82.89" width="23.80" height="6.30" fill="#8f8d99"/><rect x="0.00" y="90.49" width="23.85" height="6.30" fill="#8ea278"/><rect x="25.15" y="90.49" width="24.95" height="6.30" fill="#8ea278"/><rect x="51.40" y="90.49" width="25.40" height="6.30" fill="#8ea278"/><rect x="78.10" y="90.49" width="23.80" height="6.30" fill="#8f8d99"/><rect x="0.00" y="98.10" width="23.85" height="6.30" fill="#8ea278"/><rect x="25.15" y="98.10" width="24.95" height="6.30" fill="#8f8d99"/><rect x="51.40" y="98.10" width="25.40" height="6.30" fill="#8f8d99"/><rect x="78.10" y="98.10" width="23.80" height="6.30" fill="#8f8d99"/><rect x="0.00" y="105.70" width="23.85" height="6.30" fill="#8ea278"/><rect x="25.15" y="105.70" width="24.95" height="6.30" fill="#8f8d99"/><rect x="51.40" y="105.70" width="25.40" height="6.30" fill="#8f8d99"/><rect x="78.10" y="105.70" width="23.80" height="6.30" fill="#8ea278"/><rect x="0.00" y="113.31" width="23.85" height="6.30" fill="#8ea278"/><rect x="25.15" y="113.31" width="24.95" height="6.30" fill="#8ea278"/><rect x="51.40" y="113.31" width="25.40" height="6.30" fill="#8c8ea8"/><rect x="78.10" y="113.31" width="23.80" height="6.30" fill="#8ea278"/><rect x="0.00" y="120.91" width="23.85" height="6.30" fill="#7f8cb8"/><rect x="25.15" y="120.91" width="24.95" height="6.30" fill="#7f8cb8"/><rect x="51.40" y="120.91" width="25.40" height="6.30" fill="#a2b936"/><rect x="78.10" y="120.91" width="23.80" height="6.30" fill="#8f8d99"/><rect x="0.00" y="128.51" width="23.85" height="6.30" fill="#8eae52"/><rect x="25.15" y="128.51" width="24.95" height="6.30" fill="#8ea278"/><rect x="51.40" y="128.51" width="25.40" height="6.30" fill="#8eae52"/><rect x="78.10" y="128.51" width="23.80" height="6.30" fill="#8eae52"/><rect x="0.00" y="136.12" width="23.85" height="6.30" fill="#8ea278"/><rect x="25.15" y="136.12" width="24.95" height="6.30" fill="#8ea278"/><rect x="51.40" y="136.12" width="25.40" height="6.30" fill="#8ea278"/><rect x="78.10" y="136.12" width="23.80" height="6.30" fill="#8ea278"/><rect x="0.00" y="143.72" width="23.85" height="6.30" fill="#8eae52"/><rect x="25.15" y="143.72" width="24.95" height="6.30" fill="#8eae52"/><rect x="51.40" y="143.72" width="25.40" height="6.30" fill="#8eae52"/><rect x="78.10" y="143.72" width="23.80" height="6.30" fill="#94b832"/><rect x="0.00" y="151.33" width="23.85" height="6.30" fill="#8eae52"/><rect x="25.15" y="151.33" width="24.95" height="6.30" fill="#8a9aa4"/><rect x="51.40" y="151.33" width="25.40" height="6.30" fill="#7f8cb8"/><rect x="78.10" y="151.33" width="23.80" height="6.30" fill="#8a9aa4"/><rect x="0.00" y="158.93" width="23.85" height="6.30" fill="#8a9aa4"/><rect x="25.15" y="158.93" width="24.95" height="6.30" fill="#8a9aa4"/><rect x="51.40" y="158.93" width="25.40" height="6.30" fill="#f0aa4c"/><rect x="78.10" y="158.93" width="23.80" height="6.30" fill="#8f8d99"/><rect x="0.00" y="166.53" width="23.85" height="6.30" fill="#8a9aa4"/><rect x="25.15" y="166.53" width="24.95" height="6.30" fill="#8a9aa4"/><rect x="51.40" y="166.53" width="25.40" height="6.30" fill="#8a9aa4"/><rect x="78.10" y="166.53" width="23.80" height="6.30" fill="#7f8cb8"/><rect x="0.00" y="174.14" width="23.85" height="6.30" fill="#8ea278"/><rect x="25.15" y="174.14" width="24.95" height="6.30" fill="#bcb43c"/><rect x="51.40" y="174.14" width="25.40" height="6.30" fill="#8ea278"/><rect x="78.10" y="174.14" width="23.80" height="6.30" fill="#8ea278"/><rect x="0.00" y="181.74" width="23.85" height="5.66" fill="#94b832"/><rect x="25.15" y="181.74" width="24.95" height="5.66" fill="#94b832"/><rect x="51.40" y="181.74" width="25.40" height="5.66" fill="#94b832"/><rect x="78.10" y="181.74" width="23.80" height="5.66" fill="#94b832"/></svg>
<div class="tk" style="left:299.95px;top:439.27px;width:2.6px;height:0.8px"></div>
<div class="t" style="right:222.75px;top:435.87px;font-size:8px">1</div>
<div class="tk" style="left:299.95px;top:424.39px;width:2.6px;height:0.8px"></div>
<div class="t" style="right:222.75px;top:420.99px;font-size:8px">3</div>
<div class="tk" style="left:299.95px;top:409.18px;width:2.6px;height:0.8px"></div>
<div class="t" style="right:222.75px;top:405.78px;font-size:8px">5</div>
<div class="tk" style="left:299.95px;top:393.97px;width:2.6px;height:0.8px"></div>
<div class="t" style="right:222.75px;top:390.57px;font-size:8px">7</div>
<div class="tk" style="left:299.95px;top:378.76px;width:2.6px;height:0.8px"></div>
<div class="t" style="right:222.75px;top:375.36px;font-size:8px">9</div>
<div class="tk" style="left:299.95px;top:363.55px;width:2.6px;height:0.8px"></div>
<div class="t" style="right:222.75px;top:360.15px;font-size:8px">11</div>
<div class="tk" style="left:299.95px;top:348.35px;width:2.6px;height:0.8px"></div>
<div class="t" style="right:222.75px;top:344.95px;font-size:8px">13</div>
<div class="tk" style="left:299.95px;top:333.14px;width:2.6px;height:0.8px"></div>
<div class="t" style="right:222.75px;top:329.74px;font-size:8px">15</div>
<div class="tk" style="left:299.95px;top:317.93px;width:2.6px;height:0.8px"></div>
<div class="t" style="right:222.75px;top:314.53px;font-size:8px">17</div>
<div class="tk" style="left:299.95px;top:302.72px;width:2.6px;height:0.8px"></div>
<div class="t" style="right:222.75px;top:299.32px;font-size:8px">19</div>
<div class="tk" style="left:299.95px;top:287.51px;width:2.6px;height:0.8px"></div>
<div class="t" style="right:222.75px;top:284.11px;font-size:8px">21</div>
<div class="tk" style="left:299.95px;top:272.31px;width:2.6px;height:0.8px"></div>
<div class="t" style="right:222.75px;top:268.91px;font-size:8px">23</div>
<div class="tk" style="left:299.95px;top:257.48px;width:2.6px;height:0.8px"></div>
<div class="t" style="right:222.75px;top:254.07px;font-size:8px">25</div>
<div class="rt" style="left:273.35px;top:348.90px;font-size:9.1px">Record ID</div>
<div class="tk" style="left:315.38px;top:443.30px;width:0.8px;height:2.4px"></div>
<div class="t" style="left:300.78px;top:451.10px;width:30px;text-align:center;font-size:8.2px">Visit</div>
<div class="t" style="left:300.78px;top:459.50px;width:30px;text-align:center;font-size:8.3px">1</div>
<div class="tk" style="left:341.08px;top:443.30px;width:0.8px;height:2.4px"></div>
<div class="t" style="left:326.48px;top:451.10px;width:30px;text-align:center;font-size:8.2px">Visit</div>
<div class="t" style="left:326.48px;top:459.50px;width:30px;text-align:center;font-size:8.3px">2</div>
<div class="tk" style="left:367.55px;top:443.30px;width:0.8px;height:2.4px"></div>
<div class="t" style="left:352.95px;top:451.10px;width:30px;text-align:center;font-size:8.2px">Visit</div>
<div class="t" style="left:352.95px;top:459.50px;width:30px;text-align:center;font-size:8.3px">3</div>
<div class="tk" style="left:393.45px;top:443.30px;width:0.8px;height:2.4px"></div>
<div class="t" style="left:378.85px;top:451.10px;width:30px;text-align:center;font-size:8.2px">Visit</div>
<div class="t" style="left:378.85px;top:459.50px;width:30px;text-align:center;font-size:8.3px">4</div>
<div class="cb" style="left:408.75px;top:254.80px;width:8.5px;height:186.90px;background-image:linear-gradient(to bottom, #eca640 0%, #daab3b 10%, #c6b03a 20%, #b4b238 30%, #a0b236 40%, #8eb232 50%, #8aa848 60%, #869a70 70%, #80889a 80%, #7a80b0 90%, #6e78c0 100%)"></div>
<div class="tk" style="left:417.25px;top:288.60px;width:4.6px;height:0.8px"></div>
<div class="t" style="left:424.95px;top:285.50px;font-size:8.1px">75</div>
<div class="tk" style="left:417.25px;top:324.10px;width:4.6px;height:0.8px"></div>
<div class="t" style="left:424.95px;top:321.00px;font-size:8.1px">50</div>
<div class="tk" style="left:417.25px;top:358.10px;width:4.6px;height:0.8px"></div>
<div class="t" style="left:424.95px;top:355.00px;font-size:8.1px">25</div>
<div class="tk" style="left:417.25px;top:392.70px;width:4.6px;height:0.8px"></div>
<div class="t" style="left:424.95px;top:389.60px;font-size:8.1px">0</div>
<div class="tk" style="left:417.25px;top:426.80px;width:4.6px;height:0.8px"></div>
<div class="t" style="left:424.95px;top:423.70px;font-size:8.1px">-25</div>
<div class="rt" style="left:445.05px;top:349.30px;font-size:9.25px">Percent Change in Physical Functioning</div>
<svg class="hm" style="left:113.20px;top:474.00px" width="101.90" height="187.40" viewBox="0 0 101.90 187.40"><rect x="0" y="0" width="101.90" height="187.40" fill="#1c2210"/><rect x="0.00" y="0.00" width="23.85" height="5.55" fill="#94b832"/><rect x="25.15" y="0.00" width="24.95" height="5.55" fill="#94b832"/><rect x="51.40" y="0.00" width="25.40" height="5.55" fill="#94b832"/><rect x="78.10" y="0.00" width="23.80" height="5.55" fill="#94b832"/><rect x="0.00" y="6.85" width="23.85" height="6.30" fill="#94b832"/><rect x="25.15" y="6.85" width="24.95" height="6.30" fill="#bcb43c"/><rect x="51.40" y="6.85" width="25.40" height="6.30" fill="#8f8d99"/><rect x="78.10" y="6.85" width="23.80" height="6.30" fill="#7a84c8"/><rect x="0.00" y="14.45" width="23.85" height="6.30" fill="#8f8d99"/><rect x="25.15" y="14.45" width="24.95" height="6.30" fill="#8f8d99"/><rect x="51.40" y="14.45" width="25.40" height="6.30" fill="#8f8d99"/><rect x="78.10" y="14.45" width="23.80" height="6.30" fill="#8f8d99"/><rect x="0.00" y="22.06" width="23.85" height="6.30" fill="#94b832"/><rect x="25.15" y="22.06" width="24.95" height="6.30" fill="#94b832"/><rect x="51.40" y="22.06" width="25.40" height="6.30" fill="#94b832"/><rect x="78.10" y="22.06" width="23.80" height="6.30" fill="#94b832"/><rect x="0.00" y="29.66" width="23.85" height="6.30" fill="#94b832"/><rect x="25.15" y="29.66" width="24.95" height="6.30" fill="#8f8d99"/><rect x="51.40" y="29.66" width="25.40" height="6.30" fill="#8f8d99"/><rect x="78.10" y="29.66" width="23.80" height="6.30" fill="#8eae52"/><rect x="0.00" y="37.27" width="23.85" height="6.30" fill="#94b832"/><rect x="25.15" y="37.27" width="24.95" height="6.30" fill="#94b832"/><rect x="51.40" y="37.27" width="25.40" height="6.30" fill="#94b832"/><rect x="78.10" y="37.27" width="23.80" height="6.30" fill="#bcb43c"/><rect x="0.00" y="44.87" width="23.85" height="6.30" fill="#94b832"/><rect x="25.15" y="44.87" width="24.95" height="6.30" fill="#8eae52"/><rect x="51.40" y="44.87" width="25.40" height="6.30" fill="#94b832"/><rect x="78.10" y="44.87" width="23.80" height="6.30" fill="#8f8d99"/><rect x="0.00" y="52.47" width="23.85" height="6.30" fill="#94b832"/><rect x="25.15" y="52.47" width="24.95" height="6.30" fill="#94b832"/><rect x="51.40" y="52.47" width="25.40" height="6.30" fill="#8f8d99"/><rect x="78.10" y="52.47" width="23.80" height="6.30" fill="#94b832"/><rect x="0.00" y="60.08" width="23.85" height="6.30" fill="#94b832"/><rect x="25.15" y="60.08" width="24.95" height="6.30" fill="#94b832"/><rect x="51.40" y="60.08" width="25.40" height="6.30" fill="#94b832"/><rect x="78.10" y="60.08" width="23.80" height="6.30" fill="#94b832"/><rect x="0.00" y="67.68" width="23.85" height="6.30" fill="#94b832"/><rect x="25.15" y="67.68" width="24.95" height="6.30" fill="#94b832"/><rect x="51.40" y="67.68" width="25.40" height="6.30" fill="#bcb43c"/><rect x="78.10" y="67.68" width="23.80" height="6.30" fill="#8f8d99"/><rect x="0.00" y="75.29" width="23.85" height="6.30" fill="#94b832"/><rect x="25.15" y="75.29" width="24.95" height="6.30" fill="#94b832"/><rect x="51.40" y="75.29" width="25.40" height="6.30" fill="#94b832"/><rect x="78.10" y="75.29" width="23.80" height="6.30" fill="#94b832"/><rect x="0.00" y="82.89" width="23.85" height="6.30" fill="#94b832"/><rect x="25.15" y="82.89" width="24.95" height="6.30" fill="#94b832"/><rect x="51.40" y="82.89" width="25.40" height="6.30" fill="#94b832"/><rect x="78.10" y="82.89" width="23.80" height="6.30" fill="#8f8d99"/><rect x="0.00" y="90.49" width="23.85" height="6.30" fill="#94b832"/><rect x="25.15" y="90.49" width="24.95" height="6.30" fill="#94b832"/><rect x="51.40" y="90.49" width="25.40" height="6.30" fill="#94b832"/><rect x="78.10" y="90.49" width="23.80" height="6.30" fill="#8f8d99"/><rect x="0.00" y="98.10" width="23.85" height="6.30" fill="#bcb43c"/><rect x="25.15" y="98.10" width="24.95" height="6.30" fill="#8f8d99"/><rect x="51.40" y="98.10" width="25.40" height="6.30" fill="#8f8d99"/><rect x="78.10" y="98.10" width="23.80" height="6.30" fill="#8f8d99"/><rect x="0.00" y="105.70" width="23.85" height="6.30" fill="#94b832"/><rect x="25.15" y="105.70" width="24.95" height="6.30" fill="#8f8d99"/><rect x="51.40" y="105.70" width="25.40" height="6.30" fill="#8f8d99"/><rect x="78.10" y="105.70" width="23.80" height="6.30" fill="#bcb43c"/><rect x="0.00" y="113.31" width="23.85" height="6.30" fill="#bcb43c"/><rect x="25.15" y="113.31" width="24.95" height="6.30" fill="#f0aa4c"/><rect x="51.40" y="113.31" width="25.40" height="6.30" fill="#8f8d99"/><rect x="78.10" y="113.31" width="23.80" height="6.30" fill="#f0aa4c"/><rect x="0.00" y="120.91" width="23.85" height="6.30" fill="#7f8cb8"/><rect x="25.15" y="120.91" width="24.95" height="6.30" fill="#7f8cb8"/><rect x="51.40" y="120.91" width="25.40" height="6.30" fill="#94b832"/><rect x="78.10" y="120.91" width="23.80" height="6.30" fill="#8f8d99"/><rect x="0.00" y="128.51" width="23.85" height="6.30" fill="#94b832"/><rect x="25.15" y="128.51" width="24.95" height="6.30" fill="#94b832"/><rect x="51.40" y="128.51" width="25.40" height="6.30" fill="#94b832"/><rect x="78.10" y="128.51" width="23.80" height="6.30" fill="#94b832"/><rect x="0.00" y="136.12" width="23.85" height="6.30" fill="#94b832"/><rect x="25.15" y="136.12" width="24.95" height="6.30" fill="#94b832"/><rect x="51.40" y="136.12" width="25.40" height="6.30" fill="#94b832"/><rect x="78.10" y="136.12" width="23.80" height="6.30" fill="#94b832"/><rect x="0.00" y="143.72" width="23.85" height="6.30" fill="#94b832"/><rect x="25.15" y="143.72" width="24.95" height="6.30" fill="#94b832"/><rect x="51.40" y="143.72" width="25.40" height="6.30" fill="#94b832"/><rect x="78.10" y="143.72" width="23.80" height="6.30" fill="#94b832"/><rect x="0.00" y="151.33" width="23.85" height="6.30" fill="#f0aa4c"/><rect x="25.15" y="151.33" width="24.95" height="6.30" fill="#f0aa4c"/><rect x="51.40" y="151.33" width="25.40" height="6.30" fill="#f0aa4c"/><rect x="78.10" y="151.33" width="23.80" height="6.30" fill="#94b832"/><rect x="0.00" y="158.93" width="23.85" height="6.30" fill="#94b832"/><rect x="25.15" y="158.93" width="24.95" height="6.30" fill="#94b832"/><rect x="51.40" y="158.93" width="25.40" height="6.30" fill="#f0aa4c"/><rect x="78.10" y="158.93" width="23.80" height="6.30" fill="#8f8d99"/><rect x="0.00" y="166.53" width="23.85" height="6.30" fill="#94b832"/><rect x="25.15" y="166.53" width="24.95" height="6.30" fill="#94b832"/><rect x="51.40" y="166.53" width="25.40" height="6.30" fill="#94b832"/><rect x="78.10" y="166.53" width="23.80" height="6.30" fill="#8ea278"/><rect x="0.00" y="174.14" width="23.85" height="6.30" fill="#94b832"/><rect x="25.15" y="174.14" width="24.95" height="6.30" fill="#bcb43c"/><rect x="51.40" y="174.14" width="25.40" height="6.30" fill="#8a9aa4"/><rect x="78.10" y="174.14" width="23.80" height="6.30" fill="#8eae52"/><rect x="0.00" y="181.74" width="23.85" height="5.66" fill="#8eae52"/><rect x="25.15" y="181.74" width="24.95" height="5.66" fill="#8eae52"/><rect x="51.40" y="181.74" width="25.40" height="5.66" fill="#8eae52"/><rect x="78.10" y="181.74" width="23.80" height="5.66" fill="#94b832"/></svg>
<div class="tk" style="left:109.30px;top:658.17px;width:2.6px;height:0.8px"></div>
<div class="t" style="right:413.40px;top:654.77px;font-size:8px">1</div>
<div class="tk" style="left:109.30px;top:643.29px;width:2.6px;height:0.8px"></div>
<div class="t" style="right:413.40px;top:639.89px;font-size:8px">3</div>
<div class="tk" style="left:109.30px;top:628.08px;width:2.6px;height:0.8px"></div>
<div class="t" style="right:413.40px;top:624.68px;font-size:8px">5</div>
<div class="tk" style="left:109.30px;top:612.87px;width:2.6px;height:0.8px"></div>
<div class="t" style="right:413.40px;top:609.47px;font-size:8px">7</div>
<div class="tk" style="left:109.30px;top:597.66px;width:2.6px;height:0.8px"></div>
<div class="t" style="right:413.40px;top:594.26px;font-size:8px">9</div>
<div class="tk" style="left:109.30px;top:582.45px;width:2.6px;height:0.8px"></div>
<div class="t" style="right:413.40px;top:579.05px;font-size:8px">11</div>
<div class="tk" style="left:109.30px;top:567.25px;width:2.6px;height:0.8px"></div>
<div class="t" style="right:413.40px;top:563.85px;font-size:8px">13</div>
<div class="tk" style="left:109.30px;top:552.04px;width:2.6px;height:0.8px"></div>
<div class="t" style="right:413.40px;top:548.64px;font-size:8px">15</div>
<div class="tk" style="left:109.30px;top:536.83px;width:2.6px;height:0.8px"></div>
<div class="t" style="right:413.40px;top:533.43px;font-size:8px">17</div>
<div class="tk" style="left:109.30px;top:521.62px;width:2.6px;height:0.8px"></div>
<div class="t" style="right:413.40px;top:518.22px;font-size:8px">19</div>
<div class="tk" style="left:109.30px;top:506.41px;width:2.6px;height:0.8px"></div>
<div class="t" style="right:413.40px;top:503.01px;font-size:8px">21</div>
<div class="tk" style="left:109.30px;top:491.21px;width:2.6px;height:0.8px"></div>
<div class="t" style="right:413.40px;top:487.81px;font-size:8px">23</div>
<div class="tk" style="left:109.30px;top:476.38px;width:2.6px;height:0.8px"></div>
<div class="t" style="right:413.40px;top:472.97px;font-size:8px">25</div>
<div class="rt" style="left:82.70px;top:567.80px;font-size:9.1px">Record ID</div>
<div class="tk" style="left:124.72px;top:662.20px;width:0.8px;height:2.4px"></div>
<div class="t" style="left:110.12px;top:670.00px;width:30px;text-align:center;font-size:8.2px">Visit</div>
<div class="t" style="left:110.12px;top:678.40px;width:30px;text-align:center;font-size:8.3px">1</div>
<div class="tk" style="left:150.42px;top:662.20px;width:0.8px;height:2.4px"></div>
<div class="t" style="left:135.82px;top:670.00px;width:30px;text-align:center;font-size:8.2px">Visit</div>
<div class="t" style="left:135.82px;top:678.40px;width:30px;text-align:center;font-size:8.3px">2</div>
<div class="tk" style="left:176.90px;top:662.20px;width:0.8px;height:2.4px"></div>
<div class="t" style="left:162.30px;top:670.00px;width:30px;text-align:center;font-size:8.2px">Visit</div>
<div class="t" style="left:162.30px;top:678.40px;width:30px;text-align:center;font-size:8.3px">3</div>
<div class="tk" style="left:202.80px;top:662.20px;width:0.8px;height:2.4px"></div>
<div class="t" style="left:188.20px;top:670.00px;width:30px;text-align:center;font-size:8.2px">Visit</div>
<div class="t" style="left:188.20px;top:678.40px;width:30px;text-align:center;font-size:8.3px">4</div>
<div class="cb" style="left:218.10px;top:473.90px;width:8.5px;height:187.00px;background-image:linear-gradient(to bottom, #eca640 0%, #daab3b 10%, #c6b03a 20%, #b4b238 30%, #a0b236 40%, #8eb232 50%, #8aa848 60%, #869a70 70%, #80889a 80%, #7a80b0 90%, #6e78c0 100%)"></div>
<div class="tk" style="left:226.60px;top:515.70px;width:4.6px;height:0.8px"></div>
<div class="t" style="left:234.30px;top:512.60px;font-size:8.1px">25</div>
<div class="tk" style="left:226.60px;top:558.90px;width:4.6px;height:0.8px"></div>
<div class="t" style="left:234.30px;top:555.80px;font-size:8.1px">0</div>
<div class="tk" style="left:226.60px;top:601.50px;width:4.6px;height:0.8px"></div>
<div class="t" style="left:234.30px;top:598.40px;font-size:8.1px">-25</div>
<div class="tk" style="left:226.60px;top:643.80px;width:4.6px;height:0.8px"></div>
<div class="t" style="left:234.30px;top:640.70px;font-size:8.1px">-50</div>
<div class="rt" style="left:254.40px;top:567.80px;font-size:9.25px">Percent Change in Social Functioning</div>
<svg class="hm" style="left:303.85px;top:474.00px" width="101.90" height="187.40" viewBox="0 0 101.90 187.40"><rect x="0" y="0" width="101.90" height="187.40" fill="#1c2210"/><rect x="0.00" y="0.00" width="23.85" height="5.55" fill="#e4ae44"/><rect x="25.15" y="0.00" width="24.95" height="5.55" fill="#f0aa4c"/><rect x="51.40" y="0.00" width="25.40" height="5.55" fill="#f0aa4c"/><rect x="78.10" y="0.00" width="23.80" height="5.55" fill="#f0aa4c"/><rect x="0.00" y="6.85" width="23.85" height="6.30" fill="#8eae52"/><rect x="25.15" y="6.85" width="24.95" height="6.30" fill="#e4ae44"/><rect x="51.40" y="6.85" width="25.40" height="6.30" fill="#8f8d99"/><rect x="78.10" y="6.85" width="23.80" height="6.30" fill="#e4ae44"/><rect x="0.00" y="14.45" width="23.85" height="6.30" fill="#8f8d99"/><rect x="25.15" y="14.45" width="24.95" height="6.30" fill="#8f8d99"/><rect x="51.40" y="14.45" width="25.40" height="6.30" fill="#8f8d99"/><rect x="78.10" y="14.45" width="23.80" height="6.30" fill="#8f8d99"/><rect x="0.00" y="22.06" width="23.85" height="6.30" fill="#afb637"/><rect x="25.15" y="22.06" width="24.95" height="6.30" fill="#afb637"/><rect x="51.40" y="22.06" width="25.40" height="6.30" fill="#afb637"/><rect x="78.10" y="22.06" width="23.80" height="6.30" fill="#afb637"/><rect x="0.00" y="29.66" width="23.85" height="6.30" fill="#afb637"/><rect x="25.15" y="29.66" width="24.95" height="6.30" fill="#8f8d99"/><rect x="51.40" y="29.66" width="25.40" height="6.30" fill="#8f8d99"/><rect x="78.10" y="29.66" width="23.80" height="6.30" fill="#8f8d99"/><rect x="0.00" y="37.27" width="23.85" height="6.30" fill="#afb637"/><rect x="25.15" y="37.27" width="24.95" height="6.30" fill="#afb637"/><rect x="51.40" y="37.27" width="25.40" height="6.30" fill="#afb637"/><rect x="78.10" y="37.27" width="23.80" height="6.30" fill="#afb637"/><rect x="0.00" y="44.87" width="23.85" height="6.30" fill="#afb637"/><rect x="25.15" y="44.87" width="24.95" height="6.30" fill="#afb637"/><rect x="51.40" y="44.87" width="25.40" height="6.30" fill="#94b832"/><rect x="78.10" y="44.87" width="23.80" height="6.30" fill="#8f8d99"/><rect x="0.00" y="52.47" width="23.85" height="6.30" fill="#afb637"/><rect x="25.15" y="52.47" width="24.95" height="6.30" fill="#afb637"/><rect x="51.40" y="52.47" width="25.40" height="6.30" fill="#8f8d99"/><rect x="78.10" y="52.47" width="23.80" height="6.30" fill="#afb637"/><rect x="0.00" y="60.08" width="23.85" height="6.30" fill="#94b832"/><rect x="25.15" y="60.08" width="24.95" height="6.30" fill="#94b832"/><rect x="51.40" y="60.08" width="25.40" height="6.30" fill="#94b832"/><rect x="78.10" y="60.08" width="23.80" height="6.30" fill="#afb637"/><rect x="0.00" y="67.68" width="23.85" height="6.30" fill="#afb637"/><rect x="25.15" y="67.68" width="24.95" height="6.30" fill="#afb637"/><rect x="51.40" y="67.68" width="25.40" height="6.30" fill="#afb637"/><rect x="78.10" y="67.68" width="23.80" height="6.30" fill="#8f8d99"/><rect x="0.00" y="75.29" width="23.85" height="6.30" fill="#afb637"/><rect x="25.15" y="75.29" width="24.95" height="6.30" fill="#afb637"/><rect x="51.40" y="75.29" width="25.40" height="6.30" fill="#afb637"/><rect x="78.10" y="75.29" width="23.80" height="6.30" fill="#afb637"/><rect x="0.00" y="82.89" width="23.85" height="6.30" fill="#a2b936"/><rect x="25.15" y="82.89" width="24.95" height="6.30" fill="#a2b936"/><rect x="51.40" y="82.89" width="25.40" height="6.30" fill="#a2b936"/><rect x="78.10" y="82.89" width="23.80" height="6.30" fill="#8f8d99"/><rect x="0.00" y="90.49" width="23.85" height="6.30" fill="#afb637"/><rect x="25.15" y="90.49" width="24.95" height="6.30" fill="#afb637"/><rect x="51.40" y="90.49" width="25.40" height="6.30" fill="#afb637"/><rect x="78.10" y="90.49" width="23.80" height="6.30" fill="#8f8d99"/><rect x="0.00" y="98.10" width="23.85" height="6.30" fill="#afb637"/><rect x="25.15" y="98.10" width="24.95" height="6.30" fill="#8f8d99"/><rect x="51.40" y="98.10" width="25.40" height="6.30" fill="#8f8d99"/><rect x="78.10" y="98.10" width="23.80" height="6.30" fill="#8f8d99"/><rect x="0.00" y="105.70" width="23.85" height="6.30" fill="#afb637"/><rect x="25.15" y="105.70" width="24.95" height="6.30" fill="#8f8d99"/><rect x="51.40" y="105.70" width="25.40" height="6.30" fill="#8f8d99"/><rect x="78.10" y="105.70" width="23.80" height="6.30" fill="#afb637"/><rect x="0.00" y="113.31" width="23.85" height="6.30" fill="#afb637"/><rect x="25.15" y="113.31" width="24.95" height="6.30" fill="#afb637"/><rect x="51.40" y="113.31" width="25.40" height="6.30" fill="#8f8d99"/><rect x="78.10" y="113.31" width="23.80" height="6.30" fill="#afb637"/><rect x="0.00" y="120.91" width="23.85" height="6.30" fill="#7a84c8"/><rect x="25.15" y="120.91" width="24.95" height="6.30" fill="#7a84c8"/><rect x="51.40" y="120.91" width="25.40" height="6.30" fill="#7a84c8"/><rect x="78.10" y="120.91" width="23.80" height="6.30" fill="#8f8d99"/><rect x="0.00" y="128.51" width="23.85" height="6.30" fill="#afb637"/><rect x="25.15" y="128.51" width="24.95" height="6.30" fill="#afb637"/><rect x="51.40" y="128.51" width="25.40" height="6.30" fill="#afb637"/><rect x="78.10" y="128.51" width="23.80" height="6.30" fill="#94b832"/><rect x="0.00" y="136.12" width="23.85" height="6.30" fill="#afb637"/><rect x="25.15" y="136.12" width="24.95" height="6.30" fill="#afb637"/><rect x="51.40" y="136.12" width="25.40" height="6.30" fill="#afb637"/><rect x="78.10" y="136.12" width="23.80" height="6.30" fill="#afb637"/><rect x="0.00" y="143.72" width="23.85" height="6.30" fill="#afb637"/><rect x="25.15" y="143.72" width="24.95" height="6.30" fill="#afb637"/><rect x="51.40" y="143.72" width="25.40" height="6.30" fill="#afb637"/><rect x="78.10" y="143.72" width="23.80" height="6.30" fill="#afb637"/><rect x="0.00" y="151.33" width="23.85" height="6.30" fill="#f0aa4c"/><rect x="25.15" y="151.33" width="24.95" height="6.30" fill="#f0aa4c"/><rect x="51.40" y="151.33" width="25.40" height="6.30" fill="#f0aa4c"/><rect x="78.10" y="151.33" width="23.80" height="6.30" fill="#bcb43c"/><rect x="0.00" y="158.93" width="23.85" height="6.30" fill="#94b832"/><rect x="25.15" y="158.93" width="24.95" height="6.30" fill="#bcb43c"/><rect x="51.40" y="158.93" width="25.40" height="6.30" fill="#bcb43c"/><rect x="78.10" y="158.93" width="23.80" height="6.30" fill="#8f8d99"/><rect x="0.00" y="166.53" width="23.85" height="6.30" fill="#afb637"/><rect x="25.15" y="166.53" width="24.95" height="6.30" fill="#afb637"/><rect x="51.40" y="166.53" width="25.40" height="6.30" fill="#afb637"/><rect x="78.10" y="166.53" width="23.80" height="6.30" fill="#94b832"/><rect x="0.00" y="174.14" width="23.85" height="6.30" fill="#94b832"/><rect x="25.15" y="174.14" width="24.95" height="6.30" fill="#e4ae44"/><rect x="51.40" y="174.14" width="25.40" height="6.30" fill="#e4ae44"/><rect x="78.10" y="174.14" width="23.80" height="6.30" fill="#e4ae44"/><rect x="0.00" y="181.74" width="23.85" height="5.66" fill="#afb637"/><rect x="25.15" y="181.74" width="24.95" height="5.66" fill="#afb637"/><rect x="51.40" y="181.74" width="25.40" height="5.66" fill="#afb637"/><rect x="78.10" y="181.74" width="23.80" height="5.66" fill="#afb637"/></svg>
<div class="tk" style="left:299.95px;top:658.17px;width:2.6px;height:0.8px"></div>
<div class="t" style="right:222.75px;top:654.77px;font-size:8px">1</div>
<div class="tk" style="left:299.95px;top:643.29px;width:2.6px;height:0.8px"></div>
<div class="t" style="right:222.75px;top:639.89px;font-size:8px">3</div>
<div class="tk" style="left:299.95px;top:628.08px;width:2.6px;height:0.8px"></div>
<div class="t" style="right:222.75px;top:624.68px;font-size:8px">5</div>
<div class="tk" style="left:299.95px;top:612.87px;width:2.6px;height:0.8px"></div>
<div class="t" style="right:222.75px;top:609.47px;font-size:8px">7</div>
<div class="tk" style="left:299.95px;top:597.66px;width:2.6px;height:0.8px"></div>
<div class="t" style="right:222.75px;top:594.26px;font-size:8px">9</div>
<div class="tk" style="left:299.95px;top:582.45px;width:2.6px;height:0.8px"></div>
<div class="t" style="right:222.75px;top:579.05px;font-size:8px">11</div>
<div class="tk" style="left:299.95px;top:567.25px;width:2.6px;height:0.8px"></div>
<div class="t" style="right:222.75px;top:563.85px;font-size:8px">13</div>
<div class="tk" style="left:299.95px;top:552.04px;width:2.6px;height:0.8px"></div>
<div class="t" style="right:222.75px;top:548.64px;font-size:8px">15</div>
<div class="tk" style="left:299.95px;top:536.83px;width:2.6px;height:0.8px"></div>
<div class="t" style="right:222.75px;top:533.43px;font-size:8px">17</div>
<div class="tk" style="left:299.95px;top:521.62px;width:2.6px;height:0.8px"></div>
<div class="t" style="right:222.75px;top:518.22px;font-size:8px">19</div>
<div class="tk" style="left:299.95px;top:506.41px;width:2.6px;height:0.8px"></div>
<div class="t" style="right:222.75px;top:503.01px;font-size:8px">21</div>
<div class="tk" style="left:299.95px;top:491.21px;width:2.6px;height:0.8px"></div>
<div class="t" style="right:222.75px;top:487.81px;font-size:8px">23</div>
<div class="tk" style="left:299.95px;top:476.38px;width:2.6px;height:0.8px"></div>
<div class="t" style="right:222.75px;top:472.97px;font-size:8px">25</div>
<div class="rt" style="left:273.35px;top:567.80px;font-size:9.1px">Record ID</div>
<div class="tk" style="left:315.38px;top:662.20px;width:0.8px;height:2.4px"></div>
<div class="t" style="left:300.78px;top:670.00px;width:30px;text-align:center;font-size:8.2px">Visit</div>
<div class="t" style="left:300.78px;top:678.40px;width:30px;text-align:center;font-size:8.3px">1</div>
<div class="tk" style="left:341.08px;top:662.20px;width:0.8px;height:2.4px"></div>
<div class="t" style="left:326.48px;top:670.00px;width:30px;text-align:center;font-size:8.2px">Visit</div>
<div class="t" style="left:326.48px;top:678.40px;width:30px;text-align:center;font-size:8.3px">2</div>
<div class="tk" style="left:367.55px;top:662.20px;width:0.8px;height:2.4px"></div>
<div class="t" style="left:352.95px;top:670.00px;width:30px;text-align:center;font-size:8.2px">Visit</div>
<div class="t" style="left:352.95px;top:678.40px;width:30px;text-align:center;font-size:8.3px">3</div>
<div class="tk" style="left:393.45px;top:662.20px;width:0.8px;height:2.4px"></div>
<div class="t" style="left:378.85px;top:670.00px;width:30px;text-align:center;font-size:8.2px">Visit</div>
<div class="t" style="left:378.85px;top:678.40px;width:30px;text-align:center;font-size:8.3px">4</div>
<div class="cb" style="left:408.75px;top:473.90px;width:8.5px;height:187.00px;background-image:linear-gradient(to bottom, #eca640 0%, #daab3b 10%, #c6b03a 20%, #b4b238 30%, #a0b236 40%, #8eb232 50%, #8aa848 60%, #869a70 70%, #80889a 80%, #7a80b0 90%, #6e78c0 100%)"></div>
<div class="tk" style="left:417.25px;top:504.70px;width:4.6px;height:0.8px"></div>
<div class="t" style="left:424.95px;top:501.60px;font-size:8.1px">25</div>
<div class="tk" style="left:417.25px;top:535.80px;width:4.6px;height:0.8px"></div>
<div class="t" style="left:424.95px;top:532.70px;font-size:8.1px">0</div>
<div class="tk" style="left:417.25px;top:567.80px;width:4.6px;height:0.8px"></div>
<div class="t" style="left:424.95px;top:564.70px;font-size:8.1px">-25</div>
<div class="tk" style="left:417.25px;top:598.80px;width:4.6px;height:0.8px"></div>
<div class="t" style="left:424.95px;top:595.70px;font-size:8.1px">-50</div>
<div class="tk" style="left:417.25px;top:629.90px;width:4.6px;height:0.8px"></div>
<div class="t" style="left:424.95px;top:626.80px;font-size:8.1px">-75</div>
<div class="rt" style="left:445.05px;top:567.80px;font-size:9.25px">Percent Change in Role Functioning</div>
</div></body></html>
